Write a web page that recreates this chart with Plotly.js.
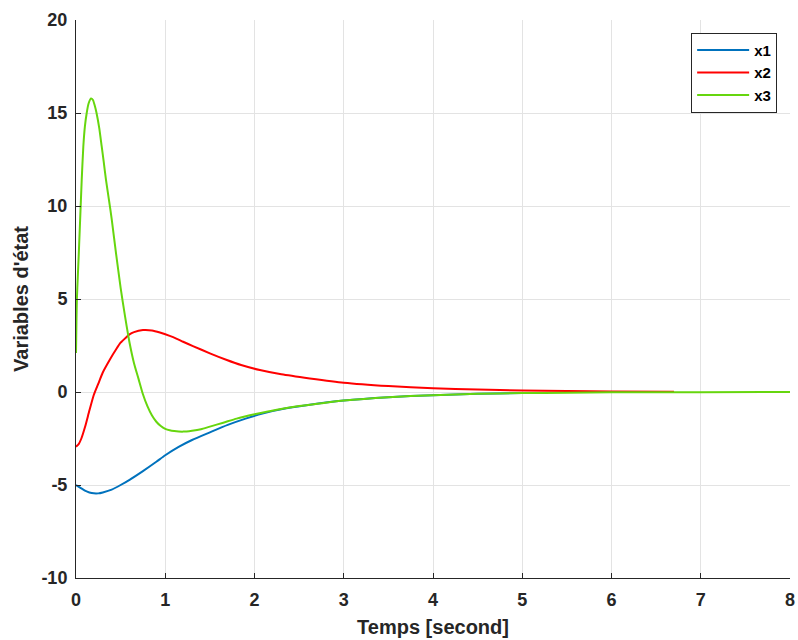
<!DOCTYPE html>
<html>
<head>
<meta charset="utf-8">
<script src="https://cdn.plot.ly/plotly-3.0.1.min.js"></script>
<style>html,body{margin:0;padding:0;background:#fff;}#chart{width:798px;height:640px;}</style>
</head>
<body>
<div id="chart"></div>
<script>
// Data
const t1 = [0, 0.05, 0.1, 0.15, 0.2, 0.25, 0.3, 0.4, 0.5, 0.6, 0.75, 0.9, 1.0, 1.15, 1.3, 1.5, 1.7, 1.9, 2.1, 2.3, 2.6, 3.0, 3.5, 4.0, 4.5, 5.0];
const x1 = [-5.0, -5.15, -5.3, -5.4, -5.45, -5.45, -5.4, -5.25, -5.0, -4.72, -4.25, -3.75, -3.4, -2.95, -2.58, -2.17, -1.77, -1.43, -1.15, -0.93, -0.7, -0.46, -0.28, -0.17, -0.1, -0.06];

const t2 = [0, 0.03, 0.06, 0.1, 0.15, 0.2, 0.25, 0.3, 0.38, 0.45, 0.5, 0.57, 0.6, 0.65, 0.75, 0.85, 0.94, 1.05, 1.13, 1.2, 1.31, 1.5, 1.69, 1.85, 2.06, 2.3, 2.62, 3.0, 3.5, 4.0, 4.5, 5.0, 5.5, 6.0, 6.7];
const x2 = [-2.94, -2.8, -2.5, -1.9, -1.0, -0.15, 0.45, 1.05, 1.75, 2.3, 2.65, 2.97, 3.1, 3.22, 3.33, 3.31, 3.2, 3.02, 2.86, 2.7, 2.47, 2.08, 1.72, 1.45, 1.18, 0.95, 0.73, 0.5, 0.32, 0.2, 0.13, 0.08, 0.05, 0.03, 0.02];

const t3 = [0, 0.005, 0.01, 0.02, 0.03, 0.04, 0.05, 0.064, 0.082, 0.1, 0.12, 0.14, 0.168, 0.19, 0.21, 0.23, 0.26, 0.288, 0.31, 0.336, 0.37, 0.4, 0.45, 0.5, 0.55, 0.6, 0.65, 0.7, 0.75, 0.8, 0.85, 0.9, 0.95, 1.0, 1.05, 1.1, 1.2, 1.3, 1.4, 1.5, 1.65, 1.8, 2.0, 2.25, 2.5, 2.75, 3.0, 3.5, 4.0, 4.5, 5.0, 5.5, 6, 7, 8];
const x3 = [2.1, 3.8, 5.0, 6.2, 7.3, 8.5, 9.7, 11.4, 13.2, 14.3, 15.0, 15.5, 15.78, 15.7, 15.4, 15.0, 14.2, 13.2, 12.4, 11.4, 10.3, 9.3, 7.4, 5.6, 4.05, 2.65, 1.55, 0.72, -0.12, -0.76, -1.25, -1.6, -1.83, -1.98, -2.06, -2.1, -2.13, -2.08, -2.0, -1.86, -1.65, -1.43, -1.2, -0.95, -0.75, -0.6, -0.46, -0.28, -0.17, -0.1, -0.06, -0.04, -0.02, -0.01, 0];

const seriesNames = ['x1', 'x2', 'x3'];
const xTicks = [0, 1, 2, 3, 4, 5, 6, 7, 8];
const yTicks = [-10, -5, 0, 5, 10, 15, 20];

const FONT = 'Liberation Sans, Arial, Helvetica, sans-serif';
const colors = ['#0072BD', '#FF0000', '#66D60E'];

const traces = [
  {x: t1, y: x1, name: seriesNames[0]},
  {x: t2, y: x2, name: seriesNames[1]},
  {x: t3, y: x3, name: seriesNames[2]}
].map((tr, i) => Object.assign(tr, {
  type: 'scatter', mode: 'lines',
  line: {color: colors[i], width: 2, shape: 'spline', smoothing: 0.6}
}));

const axisCommon = {
  showline: true, linecolor: '#262626', linewidth: 1,
  ticks: 'inside', ticklen: 5, tickcolor: '#262626', tickwidth: 1,
  showgrid: true, gridcolor: '#e3e3e3', gridwidth: 1,
  zeroline: false,
  tickfont: {family: FONT, size: 18, color: '#262626', weight: 'bold'},
  fixedrange: true
};

const layout = {
  width: 798, height: 640,
  margin: {l: 76, r: 8, t: 20, b: 62},
  paper_bgcolor: '#ffffff', plot_bgcolor: '#ffffff',
  showlegend: true,
  legend: {
    x: 0.982, y: 0.977, xanchor: 'right', yanchor: 'top',
    bgcolor: '#ffffff', bordercolor: '#262626', borderwidth: 1,
    font: {family: FONT, size: 15, color: '#000', weight: 'bold'},
    itemwidth: 52, tracegroupgap: 0
  },
  xaxis: Object.assign({}, axisCommon, {
    range: [0, 8], tickvals: xTicks, ticktext: xTicks.map(String),
    ticklabelstandoff: 5,
    title: {text: 'Temps [second]', font: {family: FONT, size: 20, color: '#262626', weight: 'bold'}, standoff: 11}
  }),
  yaxis: Object.assign({}, axisCommon, {
    range: [-10, 20], tickvals: yTicks, ticktext: yTicks.map(String),
    ticklabelstandoff: 4,
    title: {text: "Variables d'état", font: {family: FONT, size: 20, color: '#262626', weight: 'bold'}, standoff: 7}
  })
};

Plotly.newPlot('chart', traces, layout, {displayModeBar: false, staticPlot: true});
</script>
</body>
</html>
